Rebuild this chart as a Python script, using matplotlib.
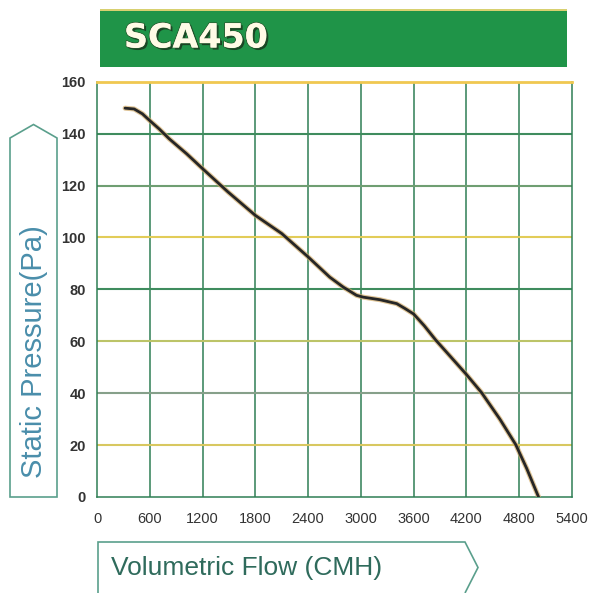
import matplotlib
matplotlib.use("Agg")
import matplotlib.pyplot as plt
import matplotlib.patheffects as pe
from matplotlib.patches import Rectangle, Polygon

# curve
flow = [319, 422, 517, 600, 707, 821, 1020, 1200, 1490, 1800, 2100, 2400,
        2646, 2798, 2950, 3026, 3217, 3407, 3502, 3600, 3720, 3850, 4000,
        4200, 4370, 4580, 4760, 4885, 5020]
pressure = [149.8, 149.5, 147.6, 145, 141.8, 138, 132.2, 126.5, 117.5,
            108.5, 101.5, 92.5, 84.7, 80.9, 77.7, 77, 76, 74.5, 72.6, 70.5,
            66, 60.5, 54.8, 47.2, 40.3, 30, 20.2, 11, 0]

x_ticks = [0, 600, 1200, 1800, 2400, 3000, 3600, 4200, 4800, 5400]
y_ticks = [0, 20, 40, 60, 80, 100, 120, 140, 160]
title = "SCA450"
x_label = "Volumetric Flow (CMH)"
y_label = "Static Pressure(Pa)"

W, H = 589, 593
plt.rcParams['font.family'] = ['Liberation Sans', 'DejaVu Sans']


def fx(px):
    return px / W


def fy(py):
    return 1 - py / H


fig = plt.figure(figsize=(W / 100, H / 100), dpi=100)
fig.patch.set_facecolor("white")

ax = fig.add_axes([fx(97), fy(497), fx(572) - fx(97), fy(81.7) - fy(497)])
ax.set_xlim(0, 5400)
ax.set_ylim(0, 160)

# scanned grid: green verticals, mixed yellow/green horizontals
grid_green = "#2f7f55"
hcolors = ["#2f7f55", "#d8c860", "#86a08a", "#bcc468", "#3f8c5e",
           "#e2cc58", "#6f9e72", "#3f8c5e", "#f0c850"]
for xv in x_ticks[1:-1]:
    ax.axvline(xv, color=grid_green, lw=1.1, zorder=1)
for yv, c in zip(y_ticks[1:-1], hcolors[1:-1]):
    ax.axhline(yv, color=c, lw=1.5, zorder=1)

for side in ["left", "right", "bottom"]:
    ax.spines[side].set_color(grid_green)
    ax.spines[side].set_linewidth(1.1)
ax.spines["top"].set_color("#f0c850")
ax.spines["top"].set_linewidth(2)

# curve with a warm halo like the print
ax.plot(flow, pressure, color="#d0aa68", lw=3.6, alpha=0.7, zorder=3,
        solid_capstyle="round", solid_joinstyle="round")
ax.plot(flow, pressure, color="#262626", lw=2.0, zorder=4,
        solid_capstyle="round", solid_joinstyle="round")

tick_font = ['Liberation Sans Narrow', 'Liberation Sans', 'DejaVu Sans']
ax.set_xticks(x_ticks)
ax.set_yticks(y_ticks)
ax.set_xticklabels([str(v) for v in x_ticks], family=tick_font,
                   fontsize=10.5, color="#333333")
ax.set_yticklabels([str(v) for v in y_ticks], family=tick_font,
                   fontsize=10.5, color="#333333", fontweight="bold")
ax.tick_params(axis="both", length=0)
ax.tick_params(axis="x", pad=11)
ax.tick_params(axis="y", pad=8)

# title bar
fig.add_artist(Rectangle((fx(100), fy(66.7)), fx(567) - fx(100),
                         fy(9.3) - fy(66.7), transform=fig.transFigure,
                         facecolor="#1f9448", edgecolor="none"))
fig.add_artist(Rectangle((fx(100), fy(10.5)), fx(567) - fx(100),
                         fy(9) - fy(10.5), transform=fig.transFigure,
                         facecolor="#d8d070", edgecolor="none"))
fig.text(fx(124), fy(38), title, fontsize=24, fontweight="heavy",
         family="DejaVu Sans", color="#fffbe6", va="center", ha="left",
         path_effects=[pe.SimplePatchShadow(offset=(1.5, -1.5),
                                            shadow_rgbFace="#1a3a20",
                                            alpha=0.9),
                       pe.withStroke(linewidth=1.2, foreground="#2a5a30"),
                       pe.Normal()])

# y label arrow box
box_col = "#5a9f8c"
ybox = [(10, 497), (57, 497), (57, 138), (33.5, 124.5), (10, 138)]
fig.add_artist(Polygon([(fx(a), fy(b)) for a, b in ybox], closed=True,
                       transform=fig.transFigure, facecolor="none",
                       edgecolor=box_col, lw=1.2))
fig.text(fx(34), fy(352), y_label, rotation=90, fontsize=21,
         color="#4a8eab", ha="center", va="center")

# x label arrow box
xbox = [(98, 603), (98, 542), (465, 542), (478, 567.5), (465, 593)]
fig.add_artist(Polygon([(fx(a), fy(b)) for a, b in xbox], closed=False,
                       transform=fig.transFigure, facecolor="none",
                       edgecolor=box_col, lw=1.2))
fig.text(fx(111), fy(568), x_label, fontsize=19, color="#2f6b5c",
         ha="left", va="center")

fig.savefig("out.png", dpi=100, facecolor="white")
